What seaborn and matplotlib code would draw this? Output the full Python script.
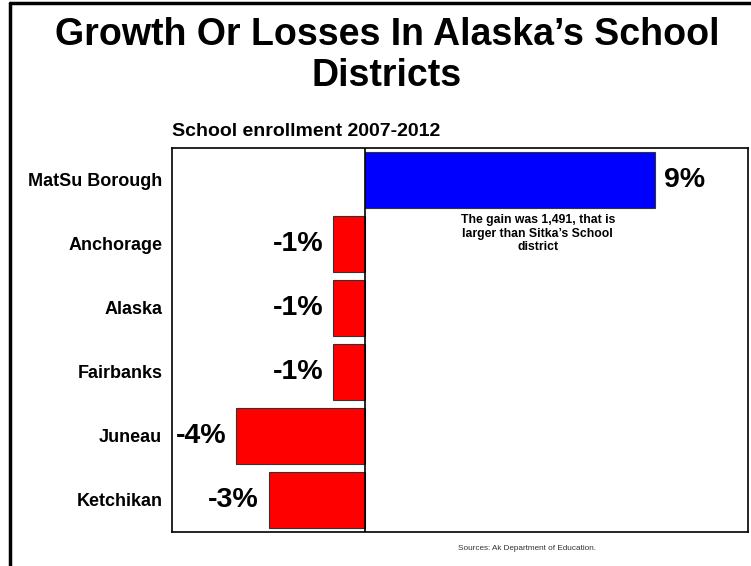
import matplotlib
matplotlib.use("Agg")
import matplotlib.pyplot as plt
import seaborn as sns
import pandas as pd
from matplotlib.lines import Line2D

districts = ["MatSu Borough", "Anchorage", "Alaska", "Fairbanks", "Juneau", "Ketchikan"]
growth = [9, -1, -1, -1, -4, -3]
pct_labels = ["9%", "-1%", "-1%", "-1%", "-4%", "-3%"]
bar_colors = ["#0000FF" if v > 0 else "#FF0000" for v in growth]

sns.set_theme(style="white")
plt.rcParams['font.family'] = ['Liberation Sans', 'DejaVu Sans']

df = pd.DataFrame({"district": districts, "growth": growth})

fig = plt.figure(figsize=(7.51, 5.66), dpi=100)
ax = fig.add_axes([172/751, 1-532/566, (748-172)/751, (532-148)/566])

sns.barplot(data=df, x="growth", y="district", hue="district", palette=bar_colors,
            legend=False, ax=ax, width=0.87, edgecolor="#333333", linewidth=0.8, saturation=1)

ax.set_xlim(-6, 11.9)
ax.set_ylim(5.5, -0.5)
ax.axvline(0, color="black", lw=1.2)
ax.set_xlabel("")
ax.set_ylabel("")
ax.set_xticks([])
ax.tick_params(axis="y", length=0, pad=7)
for lab in ax.get_yticklabels():
    lab.set_fontweight("bold")
    lab.set_fontsize(13)
    lab.set_color("black")
for s in ax.spines.values():
    s.set_visible(True)
    s.set_color("black")
    s.set_linewidth(1.2)

for i, (v, t) in enumerate(zip(growth, pct_labels)):
    if v > 0:
        ax.text(v + 0.3, i, t, ha="left", va="center", fontsize=20.5, fontweight="bold", color="black")
    else:
        ax.text(v - 0.3, i, t, ha="right", va="center", fontsize=20.5, fontweight="bold", color="black")

ax.text(5.37, 0.84, "The gain was 1,491, that is\nlarger than Sitka\u2019s School\ndistrict",
        ha="center", va="center", fontsize=8.8, fontweight="bold", color="black", linespacing=1.18)

fig.text(387/751, 1-55.5/566, "Growth Or Losses In Alaska\u2019s School\nDistricts", ha="center", va="center",
         fontsize=27, fontweight="bold", color="black", linespacing=1.2)
fig.text(172/751, 1-131/566, "School enrollment 2007-2012", ha="left", va="center",
         fontsize=14, fontweight="bold", color="black")
fig.text(527/751, 1-548/566, "Sources: Ak Department of Education.", ha="center", va="center",
         fontsize=5.9, color="#333333")

fig.add_artist(Line2D([10/751, 10/751], [0, 1-3/566], transform=fig.transFigure, color="black", lw=2.5))
fig.add_artist(Line2D([10/751, 1], [1-3/566, 1-3/566], transform=fig.transFigure, color="black", lw=2.5))

fig.savefig("out.png", dpi=100, facecolor="white")
